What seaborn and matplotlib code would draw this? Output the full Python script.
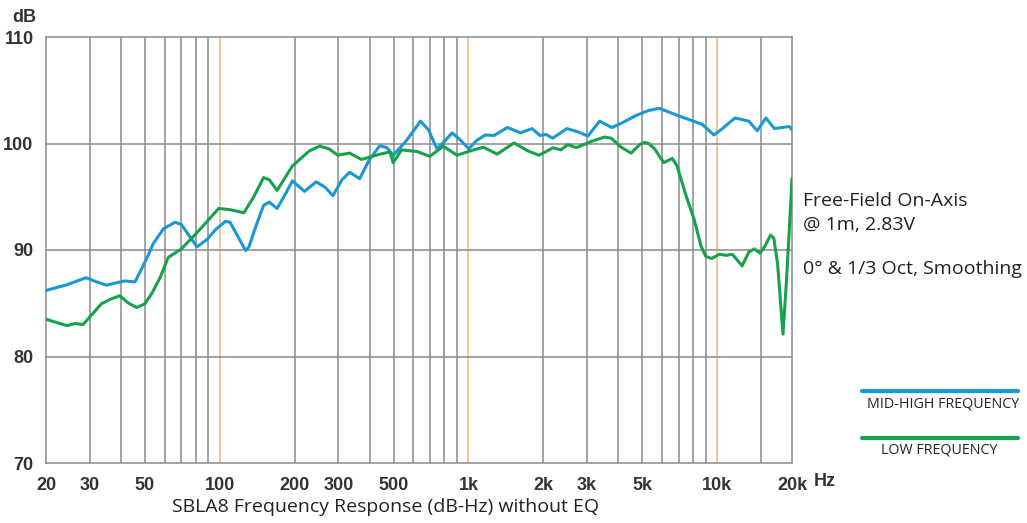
import numpy as np
import pandas as pd
import matplotlib.pyplot as plt
import seaborn as sns

sns.set_style("white")
plt.rcParams['font.family'] = ['Liberation Sans', 'DejaVu Sans']

# Mid-high frequency curve (Hz, dB)
mid_freq = [20, 24, 29, 32, 35, 41.5, 45.6, 50.8, 54, 59.4, 66, 70, 75, 81, 89, 96, 105.5, 110,
            118, 127, 131, 140, 150, 158, 170, 183, 196, 219, 244, 265, 285, 310, 333, 365, 400,
            440, 470, 498, 560, 641, 690, 747, 800, 860, 930, 1003, 1080, 1170, 1266, 1433, 1620,
            1800, 1940, 2050, 2180, 2490, 2750, 3020, 3370, 3770, 4200, 4690, 5300, 5850, 7000,
            8700, 9700, 10500, 11800, 13400, 14500, 15700, 17000, 19500, 20000]
mid_db = [86.2, 86.7, 87.4, 87.0, 86.7, 87.1, 87.0, 89.2, 90.6, 92.0, 92.6, 92.4, 91.4, 90.3, 91.0, 91.9,
          92.7, 92.6, 91.3, 89.95, 90.3, 92.3, 94.2, 94.5, 93.9, 95.2, 96.5, 95.5, 96.4, 95.9, 95.1, 96.6,
          97.3, 96.7, 98.5, 99.8, 99.6, 98.9, 100.2, 102.1, 101.3, 99.5, 100.2, 101.0, 100.3, 99.5, 100.3,
          100.8, 100.75, 101.5, 101.0, 101.4, 100.75, 100.85, 100.5, 101.4, 101.1, 100.7, 102.1, 101.5,
          102.0, 102.6, 103.1, 103.3, 102.6, 101.8, 100.8, 101.4, 102.4, 102.1, 101.2, 102.4, 101.4,
          101.6, 101.3]

# Low frequency curve (Hz, dB)
low_freq = [20, 22, 24.3, 26.2, 28.2, 30.5, 33.4, 36.5, 39.6, 43, 46.3, 50, 53.5, 57.5, 62, 70, 80,
            99, 109, 125, 137, 150, 158, 170, 196, 229, 252, 275, 298, 333, 371, 440, 483, 498,
            538, 619, 700, 792, 899, 1049, 1150, 1304, 1525, 1734, 1920, 2190, 2350, 2510, 2710,
            3120, 3520, 3750, 4110, 4510, 4880, 5100, 5300, 5600, 6100, 6600, 6900, 7450, 8100,
            8600, 9000, 9500, 10200, 10900, 11500, 12100, 12600, 13400, 14100, 14900, 15600,
            16400, 16900, 17500, 18400, 19000, 19600, 20000]
low_db = [83.5, 83.2, 82.9, 83.1, 83.0, 83.9, 84.95, 85.4, 85.7, 85.0, 84.6, 84.95, 86.0, 87.4, 89.3,
          90.1, 91.5, 93.9, 93.8, 93.5, 95.0, 96.8, 96.6, 95.6, 97.9, 99.3, 99.75, 99.5, 98.9, 99.1,
          98.5, 99.0, 99.2, 98.2, 99.4, 99.25, 98.8, 99.75, 98.9, 99.4, 99.65, 99.0, 100.05, 99.3, 98.9,
          99.6, 99.4, 99.9, 99.6, 100.2, 100.6, 100.5, 99.65, 99.1, 99.9, 100.1, 100.0, 99.5, 98.2,
          98.6, 97.9, 95.3, 92.8, 90.4, 89.4, 89.2, 89.6, 89.5, 89.6, 89.0, 88.5, 89.8, 90.1, 89.7,
          90.4, 91.4, 91.1, 88.7, 82.1, 87.1, 92.8, 96.7]

tick_freqs = [20, 30, 50, 100, 200, 300, 500, 1000, 2000, 3000, 5000, 10000, 20000]
tick_labels = ['20', '30', '50', '100', '200', '300', '500', '1k', '2k', '3k', '5k', '10k', '20k']
grid_freqs = [30, 40, 50, 60, 70, 80, 90, 200, 300, 400, 500, 600, 700, 800, 900,
              2000, 3000, 4000, 5000, 6000, 7000, 8000, 9000, 15000]
orange_freqs = [100, 1000, 10000]
db_ticks = [70, 80, 90, 100, 110]

mid_df = pd.DataFrame({'freq': mid_freq, 'db': mid_db})
low_df = pd.DataFrame({'freq': low_freq, 'db': low_db})

blue = '#1b97d6'
green = '#16a24c'
grid_col = '#8a8a8a'

fig = plt.figure(figsize=(10.27, 5.23), dpi=100)
ax = fig.add_axes([46 / 1027, 60 / 523, 746 / 1027, 426 / 523])

for f in grid_freqs:
    ax.axvline(f, color=grid_col, linewidth=1.1, zorder=1)
for f in orange_freqs:
    ax.axvline(f, color='#f4b183', linewidth=1.1, zorder=1)
for d in [80, 90, 100]:
    ax.axhline(d, color=grid_col, linewidth=1.1, zorder=1)

sns.lineplot(data=mid_df, x='freq', y='db', ax=ax, color=blue, linewidth=2.2, zorder=3)
sns.lineplot(data=low_df, x='freq', y='db', ax=ax, color=green, linewidth=2.2, zorder=3)

ax.set_xscale('log')
ax.set_xlim(20, 20000)
ax.set_ylim(70, 110)
ax.set_xticks(tick_freqs)
ax.set_xticklabels(tick_labels)
ax.xaxis.set_minor_locator(plt.NullLocator())
ax.set_yticks(db_ticks)
ax.tick_params(length=0, labelsize=13, colors='#333333', pad=10)
ax.tick_params(axis='y', pad=9)
for lab in ax.get_xticklabels() + ax.get_yticklabels():
    lab.set_fontweight('bold')
ax.set_xlabel('')
ax.set_ylabel('')
for sp in ax.spines.values():
    sp.set_color(grid_col)
    sp.set_linewidth(1.1)

fig.text(12 / 1027, 1 - 17 / 523, 'dB', fontsize=13, fontweight='bold', color='#333333', va='center')
fig.text(814 / 1027, 1 - 481 / 523, 'Hz', fontsize=13, fontweight='bold', color='#333333', va='center')

body = ['Open Sans', 'DejaVu Sans']
fig.text(172 / 1027, 1 - 507 / 523, 'SBLA8 Frequency Response (dB-Hz) without EQ',
         fontsize=14, family=body, color='#222222', va='center')
fig.text(803 / 1027, 1 - 206 / 523, 'Free-Field On-Axis', fontsize=14, family=body, color='#222222', va='baseline')
fig.text(803 / 1027, 1 - 230 / 523, '@ 1m, 2.83V', fontsize=14, family=body, color='#222222', va='baseline')
fig.text(803 / 1027, 1 - 274 / 523, '0° & 1/3 Oct, Smoothing', fontsize=14, family=body, color='#222222', va='baseline')

# legend drawn by hand
fig.add_artist(plt.Line2D([862 / 1027, 1018 / 1027], [1 - 391 / 523, 1 - 391 / 523], color=blue, linewidth=3))
fig.add_artist(plt.Line2D([862 / 1027, 1018 / 1027], [1 - 438 / 523, 1 - 438 / 523], color=green, linewidth=3))
fig.text(943 / 1027, 1 - 404 / 523, 'MID-HIGH FREQUENCY', fontsize=10.3, family=body, color='#222222', ha='center', va='center')
fig.text(939 / 1027, 1 - 450 / 523, 'LOW FREQUENCY', fontsize=10.3, family=body, color='#222222', ha='center', va='center')

fig.savefig('out.png', dpi=100)
